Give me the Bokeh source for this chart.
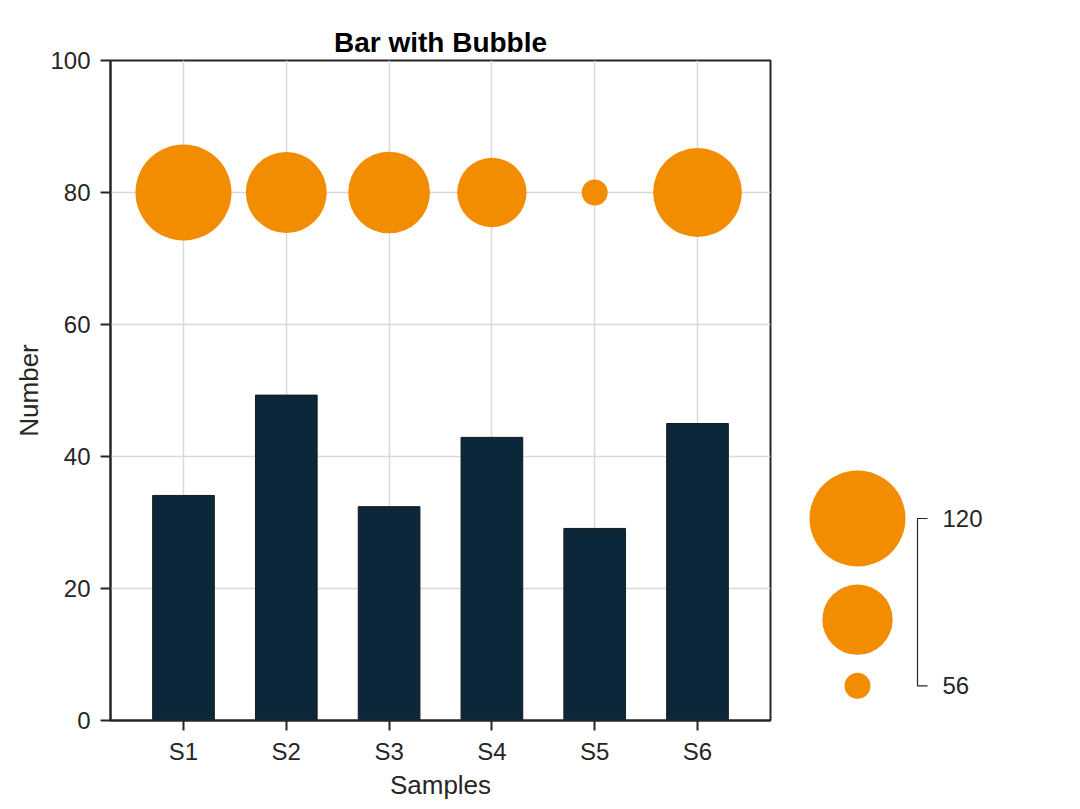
import numpy as np
from bokeh.plotting import figure
from bokeh.layouts import row
from bokeh.models import Range1d, FixedTicker
from bokeh.core.properties import value
from bokeh.embed import file_html
from bokeh.resources import INLINE

# ---- data ----
samples = ["S1", "S2", "S3", "S4", "S5", "S6"]
numbers = [34.1, 49.3, 32.4, 42.9, 29.1, 45.0]
bubble_values = [120, 100, 101, 87, 56, 110]
bubble_level = 80
legend_values = [120, 88, 56]
legend_labels = ["120", "56"]

FONT = "Liberation Sans"
TXT = "#262626"
ORANGE = "#f28c00"
NAVY = "#0b2739"

D_MIN, D_MAX = 26.0, 96.0
vmin, vmax = min(bubble_values), max(bubble_values)


def bubble_diam(v):
    # area-linear mapping between min and max bubble diameter (pixels)
    a0, a1 = D_MIN ** 2, D_MAX ** 2
    return float(np.sqrt(a0 + (v - vmin) / (vmax - vmin) * (a1 - a0)))


xs = list(range(1, len(samples) + 1))

TOP, FRAME_H, BOTTOM = 60, 660, 85
H = TOP + FRAME_H + BOTTOM

p = figure(width=780, height=H,
           x_range=Range1d(0.29, 6.71), y_range=Range1d(0, 100),
           output_backend="svg", toolbar_location=None,
           min_border_left=110, min_border_right=10,
           min_border_top=TOP, min_border_bottom=BOTTOM)

p.title.text = "Bar with Bubble"
p.title.align = "center"
p.title.text_font = FONT
p.title.text_font_size = "28px"
p.title.text_font_style = "bold"
p.title.text_color = "#000000"
p.title.standoff = 6

p.vbar(x=xs, top=numbers, width=0.6, fill_color=NAVY,
       line_color="#1a1a1a", line_width=1)
p.scatter(x=xs, y=[bubble_level] * len(xs),
          size=[bubble_diam(v) for v in bubble_values],
          fill_color=ORANGE, line_color=None)

p.xaxis.ticker = FixedTicker(ticks=xs)
p.xaxis.major_label_overrides = {x: s for x, s in zip(xs, samples)}
p.yaxis.ticker = FixedTicker(ticks=[0, 20, 40, 60, 80, 100])
p.xaxis.axis_label = "Samples"
p.yaxis.axis_label = "Number"

for ax in (p.xaxis, p.yaxis):
    ax.axis_line_color = TXT
    ax.axis_line_width = 2
    ax.major_tick_line_color = TXT
    ax.major_tick_line_width = 2
    ax.major_tick_out = 10
    ax.major_tick_in = 0
    ax.minor_tick_line_color = None
    ax.major_label_text_font = FONT
    ax.major_label_text_font_size = "24px"
    ax.major_label_text_color = TXT
    ax.axis_label_text_font = FONT
    ax.axis_label_text_font_size = "26px"
    ax.axis_label_text_font_style = "normal"
    ax.axis_label_text_color = TXT

p.xaxis.major_label_standoff = 7
p.xaxis.axis_label_standoff = 2
p.yaxis.major_label_standoff = 10
p.yaxis.axis_label_standoff = 3

p.xgrid.ticker = FixedTicker(ticks=xs)
p.grid.grid_line_color = "#d9d9d9"
p.grid.grid_line_width = 1.5
p.outline_line_color = TXT
p.outline_line_width = 2
p.outline_line_alpha = 1

# ---- bubble legend panel (pixel coordinates, frame aligned with main plot) ----
p2 = figure(width=292, height=H,
            x_range=Range1d(0, 292), y_range=Range1d(TOP + FRAME_H, TOP),
            output_backend="svg", toolbar_location=None,
            x_axis_location=None, y_axis_location=None,
            min_border_left=0, min_border_right=0,
            min_border_top=TOP, min_border_bottom=BOTTOM,
            outline_line_color=None)
p2.grid.visible = False

leg_x = 77
top_center = 518
gap = 18
diams = [bubble_diam(v) for v in legend_values]
ys = [top_center]
for i in range(1, len(diams)):
    ys.append(ys[-1] + diams[i - 1] / 2 + gap + diams[i] / 2)
p2.scatter(x=[leg_x] * len(ys), y=ys, size=diams,
           fill_color=ORANGE, line_color=None)

bx0, bx1 = 137, 147
p2.line(x=[bx1, bx0, bx0, bx1], y=[ys[0], ys[0], ys[-1], ys[-1]],
        line_color=TXT, line_width=1.2)
p2.text(x=[bx1 + 15, bx1 + 15], y=[ys[0], ys[-1]], text=legend_labels,
        text_font=value(FONT), text_font_size="24px", text_color=TXT,
        text_baseline="middle", text_align="left")

layout = row(p, p2)
open("out.html", "w").write(file_html(layout, INLINE))
